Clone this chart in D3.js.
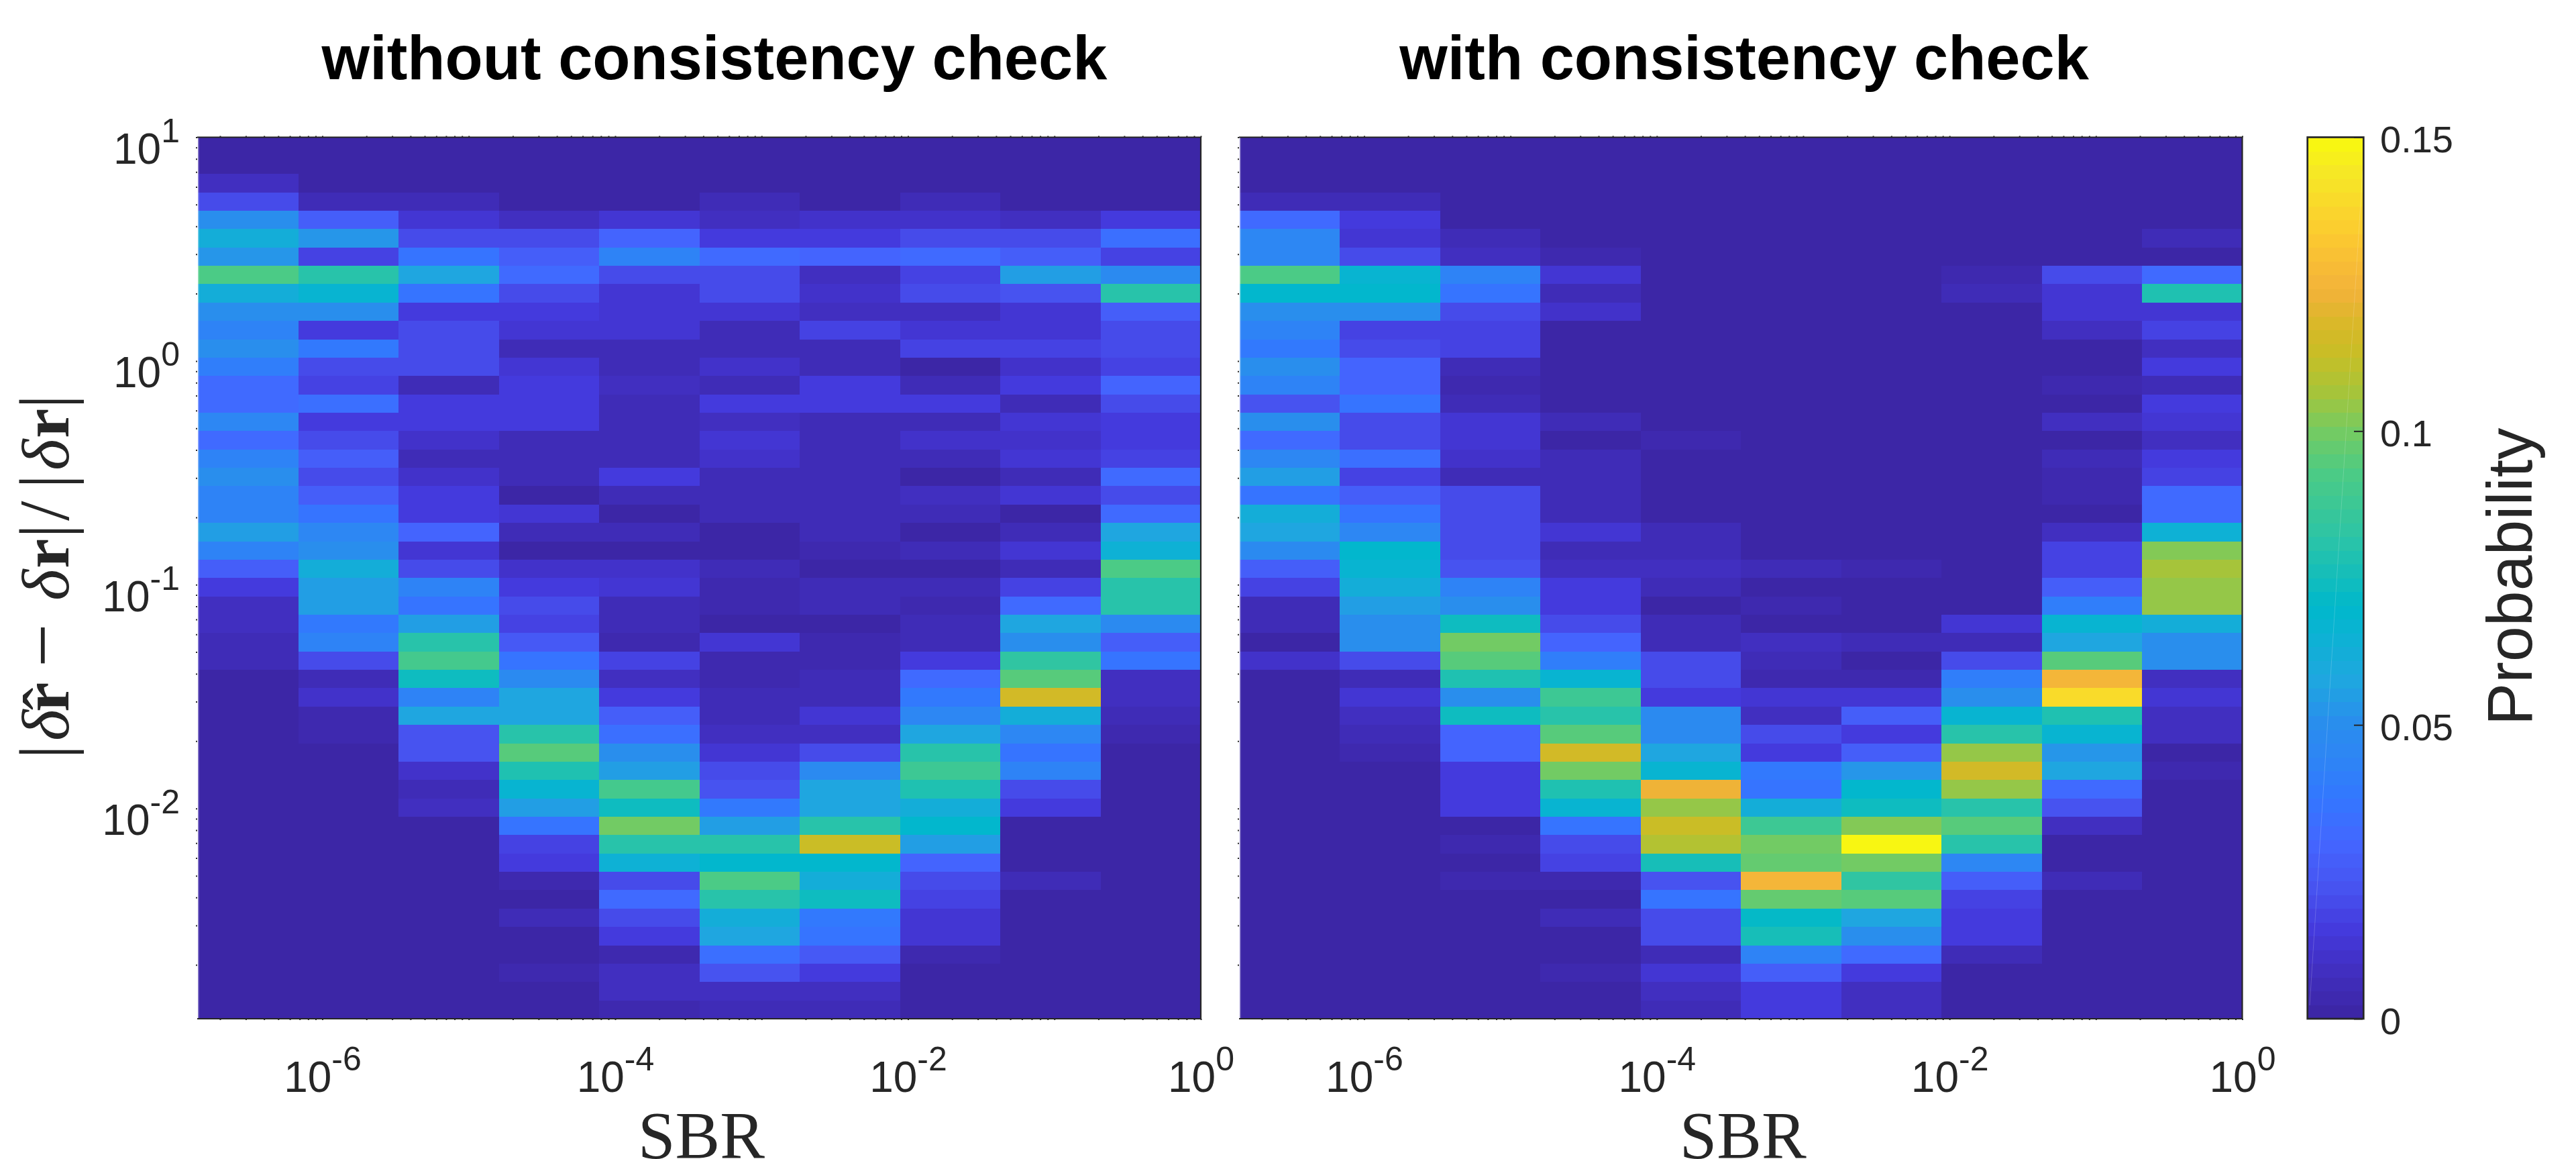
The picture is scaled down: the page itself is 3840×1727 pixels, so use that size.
<!DOCTYPE html>
<html><head><meta charset="utf-8">
<script src="https://cdn.jsdelivr.net/npm/d3@7"></script>
<style>
html,body{margin:0;padding:0;background:#fff;overflow:hidden}
svg{display:block}
text{font-family:"Liberation Sans",Arial,sans-serif;fill:#262626}
</style></head><body><div id="chart"></div>
<script>
// Probability per bin, in thousandths. Rows run from the top bin (|err| ~ 10) to the bottom bin; columns are SBR bins.
const withoutCheck = [
[0,0,0,0,0,0,0,0,0,0],
[0,0,0,0,0,0,0,0,0,0],
[9,0,0,0,0,0,0,0,0,0],
[19,7,5,2,2,5,2,5,2,1],
[51,26,13,9,13,8,11,11,8,15],
[61,52,21,21,30,16,16,20,20,34],
[53,17,36,26,43,32,30,31,28,17],
[93,82,57,31,20,20,8,18,56,48],
[61,67,37,20,13,20,11,20,22,82],
[51,51,15,15,12,12,8,8,13,26],
[44,15,21,13,12,6,17,12,12,20],
[50,38,21,7,5,6,6,18,18,20],
[41,20,20,13,5,11,7,1,11,17],
[32,18,6,15,9,6,15,7,16,30],
[31,34,15,15,7,15,15,15,6,21],
[46,15,15,15,6,9,7,7,13,16],
[31,21,11,7,7,13,7,11,11,15],
[44,28,7,6,7,11,7,7,12,17],
[51,20,11,7,15,5,6,1,7,31],
[44,28,16,2,5,6,6,8,13,20],
[44,37,15,12,0,6,5,6,1,31],
[54,45,30,5,5,1,5,2,6,58],
[44,51,13,0,0,2,4,6,13,64],
[26,61,20,11,11,6,1,1,7,93],
[15,55,44,16,13,4,6,6,18,82],
[9,55,37,20,7,4,6,4,31,82],
[9,39,54,18,6,1,1,7,58,49],
[5,43,82,24,4,13,4,7,50,28],
[6,21,91,37,17,4,4,15,84,37],
[0,7,73,48,8,4,6,31,96,8],
[0,11,44,57,16,7,7,38,117,8],
[0,4,58,58,28,7,13,46,63,5],
[0,4,22,82,35,9,8,58,46,4],
[0,2,22,94,50,12,20,82,37,0],
[0,2,11,79,54,21,48,88,44,0],
[0,0,6,67,90,22,58,79,21,0],
[0,0,9,55,73,39,57,62,15,0],
[0,0,0,36,99,54,82,70,0,0],
[0,0,0,17,82,82,113,54,0,0],
[0,0,0,15,64,68,68,30,2,0],
[0,0,0,4,20,93,63,21,5,0],
[0,0,0,1,31,82,74,17,0,0],
[0,0,0,6,20,61,39,13,0,0],
[0,0,0,0,16,58,37,13,0,0],
[0,0,0,0,4,34,24,4,0,0],
[0,0,0,4,8,22,16,0,0,0],
[0,0,0,0,8,8,8,0,0,0],
[0,0,0,0,4,6,7,0,0,0]
];
const withCheck = [
[0,0,0,0,0,0,0,0,0,0],
[0,0,0,0,0,0,0,0,0,0],
[0,0,0,0,0,0,0,0,0,0],
[7,7,0,0,0,0,0,0,0,0],
[31,15,0,0,0,0,0,0,0,0],
[46,12,5,0,0,0,0,0,0,5],
[46,20,9,4,0,0,0,0,0,1],
[92,67,44,12,0,0,0,4,19,31],
[70,70,36,5,0,0,0,6,12,79],
[51,51,20,11,0,0,0,0,12,13],
[43,17,17,0,0,0,0,0,8,18],
[38,20,17,0,0,0,0,0,1,8],
[51,30,7,0,0,0,0,0,1,15],
[44,30,4,0,0,0,0,0,4,7],
[22,37,6,0,0,0,0,0,1,16],
[51,19,12,7,0,0,0,0,8,12],
[31,20,13,1,4,0,0,0,1,8],
[45,34,11,6,0,0,0,0,6,16],
[55,18,6,5,1,0,0,0,4,18],
[37,28,20,5,1,0,0,0,4,31],
[61,37,21,7,1,0,0,0,1,31],
[57,45,21,12,5,0,0,0,8,64],
[48,68,21,5,5,2,0,0,17,102],
[26,67,22,8,8,6,4,0,17,107],
[18,61,44,16,6,1,2,1,28,105],
[6,54,51,16,1,4,1,1,42,105],
[7,50,74,19,5,1,1,13,67,61],
[2,50,100,30,6,8,5,7,57,51],
[11,21,96,41,19,5,2,21,96,51],
[0,7,79,67,19,4,4,42,125,8],
[0,13,51,88,16,12,12,51,139,13],
[0,8,74,82,49,9,26,67,79,8],
[0,5,30,96,49,20,15,82,67,8],
[0,4,30,116,58,16,28,105,52,1],
[0,0,15,100,67,39,53,116,57,4],
[0,0,15,79,122,36,70,105,31,0],
[0,0,16,67,104,61,74,82,22,0],
[0,0,0,37,113,88,102,95,8,0],
[0,0,4,21,109,100,150,82,0,0],
[0,0,0,17,77,98,100,45,1,0],
[0,0,4,4,22,125,83,26,5,0],
[0,0,0,1,36,98,96,18,0,0],
[0,0,0,7,21,72,57,15,0,0],
[0,0,0,0,21,76,51,15,0,0],
[0,0,0,0,6,44,31,5,0,0],
[0,0,0,4,12,28,16,0,0,0],
[0,0,0,0,9,16,9,0,0,0],
[0,0,0,0,5,16,9,0,0,0]
];
const panelTitles = ["without consistency check","with consistency check"];
const xTickExponents = [-6,-4,-2,0];
const yTickExponents = [1,0,-1,-2];
const colorTickValues = [0,50,100,150];
const colorTickLabels = ["0","0.05","0.1","0.15"];
const colorStopValues = [0,7,15,22,30,37.5,44,50,58,70,82,93,100,107,113,118,124,133.5,144,150];
const colorStopHex = ["#3b25a2","#402dbb","#4439dc","#4752f0","#4466ff","#3377ff","#2e84f5","#2a8dee","#1ea8df","#00b8cc","#2cc4a6","#4ccb85","#74cb62","#a9c438","#c8be26","#d8b828","#f3b23a","#fcca30","#f6e826","#f8fa0d"];

const W=3840,H=1727;
const plotTop=204.5,plotBottom=1518;
const panels=[{l:295,r:1790,rows:withoutCheck},{l:1848,r:3342.5,rows:withCheck}];
const xMinExp=-6.85,yMinExp=-2.94;
const nCols=10,nRows=48;
const ink="#262626";

const svg=d3.select("#chart").append("svg").attr("width",W).attr("height",H).attr("viewBox",`0 0 ${W} ${H}`);

const stopScale=d3.scaleLinear().domain(colorStopValues).range(colorStopHex).interpolate(d3.interpolateRgb);
const levels=d3.range(64).map(i=>stopScale((i+0.5)/64*150));
const color=d3.scaleQuantize().domain([0,150]).range(levels);

const y=d3.scaleLog().domain([10,Math.pow(10,yMinExp)]).range([plotTop,plotBottom]);
const yEdge=i=>Math.pow(10,1+(yMinExp-1)*i/nRows);

function power(sel,exp,size,supSize,supRise){
  sel.text(null);
  sel.append("tspan").attr("font-size",size).text("10");
  sel.append("tspan").attr("font-size",supSize).attr("dy",-supRise).text(exp);
}

panels.forEach((p,pi)=>{
  const x=d3.scaleLog().domain([Math.pow(10,xMinExp),1]).range([p.l,p.r]);
  const xEdge=i=>Math.pow(10,xMinExp*(1-i/nCols));
  const g=svg.append("g");
  const cells=p.rows.flatMap((row,ri)=>row.map((v,ci)=>({v,ri,ci})));
  g.append("g").attr("shape-rendering","crispEdges").selectAll("rect").data(cells).join("rect")
    .attr("x",d=>x(xEdge(d.ci)))
    .attr("y",d=>y(yEdge(d.ri)))
    .attr("width",d=>x(xEdge(d.ci+1))-x(xEdge(d.ci)))
    .attr("height",d=>y(yEdge(d.ri+1))-y(yEdge(d.ri)))
    .attr("fill",d=>color(d.v));

  // faint left edge, dark top / right / bottom
  g.append("rect").attr("x",p.l-1).attr("y",plotTop).attr("width",2.5).attr("height",plotBottom-plotTop).attr("fill","#fff").attr("opacity",0.4);
  g.append("path").attr("d",`M${p.l-1},${plotTop}H${p.r}V${plotBottom}H${p.l-1}`).attr("fill","none").attr("stroke",ink).attr("stroke-width",2.2);

  // minor and major ticks along the box
  const xt=d3.axisBottom(x).tickValues(x.ticks()).tickSize(2).tickFormat("");
  const xb=d3.axisTop(x).tickValues(x.ticks()).tickSize(2).tickFormat("");
  const yl=d3.axisLeft(y).tickValues(y.ticks()).tickSize(2).tickFormat("");
  g.append("g").attr("transform",`translate(0,${plotBottom})`).call(xt).call(a=>a.select(".domain").remove()).selectAll("line").attr("stroke",ink).attr("stroke-width",2);
  g.append("g").attr("transform",`translate(0,${plotTop})`).call(xb).call(a=>a.select(".domain").remove()).selectAll("line").attr("stroke",ink).attr("stroke-width",2);
  g.append("g").attr("transform",`translate(${p.l-1},0)`).call(yl).call(a=>a.select(".domain").remove()).selectAll("line").attr("stroke",ink).attr("stroke-width",2);

  // x tick labels through an axis
  const xlab=d3.axisBottom(x).tickValues(xTickExponents.map(e=>Math.pow(10,e))).tickSize(0).tickPadding(0);
  const xg=g.append("g").attr("transform",`translate(0,1627)`).call(xlab);
  xg.select(".domain").remove();
  xg.selectAll(".tick text").attr("y",0).attr("dy",0).attr("text-anchor","middle").each(function(d,i){
    power(d3.select(this),String(xTickExponents[i]),64,50,32);
  });

  if(pi===0){
    const ylab=d3.axisLeft(y).tickValues(yTickExponents.map(e=>Math.pow(10,e))).tickSize(0).tickPadding(0);
    const yg=g.append("g").attr("transform","translate(268,0)").call(ylab);
    yg.select(".domain").remove();
    yg.selectAll(".tick text").attr("x",0).attr("dy",39).attr("text-anchor","end").each(function(d,i){
      power(d3.select(this),String(yTickExponents[i]),64,50,32);
    });
  }

  svg.append("text").attr("x",(pi===0?1065:2600)).attr("y",118).attr("text-anchor","middle")
    .attr("font-size",92).attr("font-weight","bold").style("fill","#000").text(panelTitles[pi]);
  svg.append("text").attr("x",(p.l+p.r)/2+3).attr("y",1725).attr("text-anchor","middle")
    .attr("font-size",100).style("font-family","'Liberation Serif',serif").text("SBR");
});

// y axis title, built in the rotated frame (x grows upward along the page)
const yt=svg.append("text").attr("transform","translate(102,1122) rotate(-90)")
  .attr("font-size",100).style("font-family","'Liberation Serif',serif");
const part=(s,pos,o={})=>{
  const t=yt.append("tspan").attr("x",pos).attr("y",o.y||0).text(s);
  if(o.italic)t.attr("font-style","italic");
  if(o.bold)t.attr("font-weight","bold");
  if(o.size)t.attr("font-size",o.size);
};
part("|",-9,{size:106});
part("δ",18,{italic:true});
part("ˆ",64,{y:2});
part("r",61,{bold:true});
part("−",128,{size:115});
part("δ",227,{italic:true});
part("r",275,{bold:true});
part("|",320,{size:106});
part("/",346,{size:106});
part("|",394,{size:106});
part("δ",421,{italic:true});
part("r",469,{bold:true});
part("|",513,{size:106});

// colour bar
const cb={l:3441,r:3522};
const cy=d3.scaleLinear().domain([0,150]).range([plotBottom,plotTop]);
svg.append("g").attr("shape-rendering","crispEdges").selectAll("rect").data(levels).join("rect")
  .attr("x",cb.l).attr("width",cb.r-cb.l)
  .attr("y",(d,i)=>cy((i+1)/64*150)).attr("height",(plotBottom-plotTop)/64+0.5)
  .attr("fill",d=>d);
svg.append("line").attr("x1",cb.l+2).attr("y1",plotBottom-20).attr("x2",cb.r).attr("y2",plotTop+50)
  .attr("stroke","#fff").attr("stroke-width",1).attr("opacity",0.18);
svg.append("rect").attr("x",cb.l-1.3).attr("y",plotTop).attr("width",cb.r-cb.l+2.6).attr("height",plotBottom-plotTop)
  .attr("fill","none").attr("stroke",ink).attr("stroke-width",2.7);
const ca=d3.axisRight(cy).tickValues(colorTickValues).tickSize(-13).tickPadding(0).tickFormat((d,i)=>colorTickLabels[i]);
const cg=svg.append("g").attr("transform",`translate(${cb.r},0)`).call(ca);
cg.select(".domain").remove();
cg.selectAll(".tick line").attr("stroke",ink).attr("stroke-width",2);
cg.selectAll(".tick text").attr("x",26).attr("dy",22).attr("text-anchor","start").attr("font-size",56);
svg.append("text").attr("transform","translate(3774,1081) rotate(-90)").attr("font-size",95).text("Probability");
</script></body></html>
